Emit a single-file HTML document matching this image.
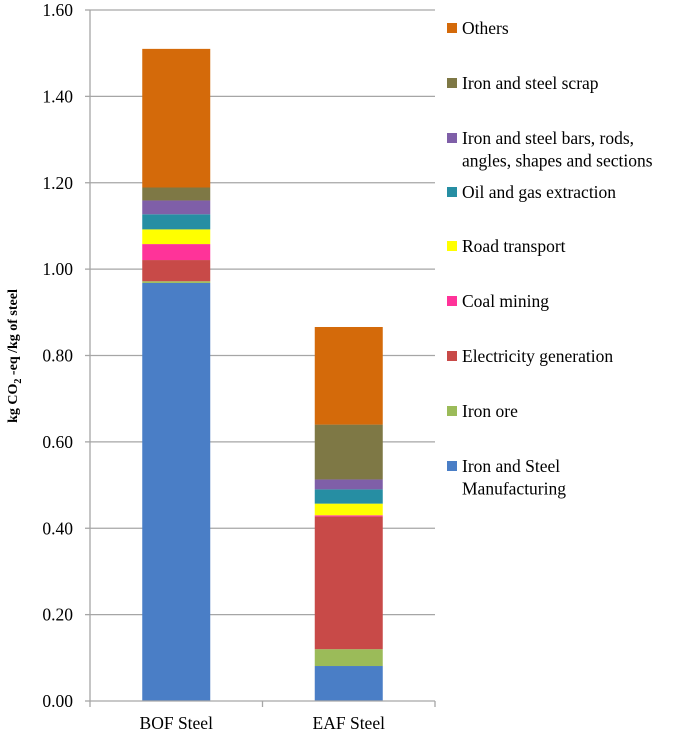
<!DOCTYPE html>
<html><head><meta charset="utf-8"><style>
html,body{margin:0;padding:0;background:#fff;}
svg, svg text{font-family:"Liberation Serif","Times New Roman",serif;}
</style></head><body>
<svg id="chart" width="685" height="734" viewBox="0 0 685 734" font-family="Liberation Serif, serif">
<g id="grid"></g>
<g id="bars"></g>
<g id="axes"></g>
<g id="legend"></g>
<text font-family="Liberation Serif, serif" transform="translate(17,356) rotate(-90)" text-anchor="middle" font-size="14" font-weight="bold">kg CO<tspan font-size="10" dy="4">2</tspan><tspan dy="-4"> -eq /kg  of steel</tspan></text>
</svg>
<script>
const categories = ["BOF Steel", "EAF Steel"];
const seriesNames = ["Iron and Steel Manufacturing", "Iron ore", "Electricity generation", "Coal mining", "Road transport", "Oil and gas extraction", "Iron and steel bars, rods, angles, shapes and sections", "Iron and steel scrap", "Others"];
const manufacturing = [0.968, 0.081];
const ironOre = [0.004, 0.039];
const electricity = [0.049, 0.307];
const coalMining = [0.037, 0.003];
const roadTransport = [0.034, 0.027];
const oilGas = [0.035, 0.033];
const steelBars = [0.032, 0.023];
const steelScrap = [0.030, 0.127];
const others = [0.321, 0.226];
const yTicks = [0, 0.2, 0.4, 0.6, 0.8, 1.0, 1.2, 1.4, 1.6];
const yTickLabels = ["0.00", "0.20", "0.40", "0.60", "0.80", "1.00", "1.20", "1.40", "1.60"];

const series = [manufacturing, ironOre, electricity, coalMining, roadTransport, oilGas, steelBars, steelScrap, others];
const colors = ["#4a7ec6", "#9bbb59", "#c84a48", "#ff3399", "#ffff00", "#268ea3", "#7f5fa8", "#7e7845", "#d46a0a"];
const NS = "http://www.w3.org/2000/svg";
const FONT = "Liberation Serif, serif";
const X0 = 90, X1 = 435, Y0 = 701, Y1 = 10, YMAX = 1.6;
const y = v => Y0 - (v / YMAX) * (Y0 - Y1);
const bandW = (X1 - X0) / categories.length;
const xc = i => X0 + bandW * (i + 0.5);
const barW = 68;
function mk(tag, attrs, parent) { const e = document.createElementNS(NS, tag); for (const k in attrs) e.setAttribute(k, attrs[k]); parent.appendChild(e); return e; }
const grid = document.getElementById("grid"), bars = document.getElementById("bars"), axes = document.getElementById("axes"), legend = document.getElementById("legend");

yTicks.forEach((t, i) => {
  if (t > 0) {
    const g = mk("line", {x1: X0, x2: X1, y1: y(t), y2: y(t), stroke: "#a6a6a6", "stroke-width": 1.3}, grid);
    
    
  }
  const tk = mk("line", {x1: X0 - 5, x2: X0, y1: y(t), y2: y(t), stroke: "#a6a6a6", "stroke-width": 1.3}, axes);
  
  
  const lb = mk("text", {x: 73, y: y(t) + 6, "text-anchor": "end", "font-size": 17.5, "font-family": FONT}, axes);
  lb.textContent = yTickLabels[i];
  
  
});

categories.forEach((c, ci) => {
  let cum = 0;
  series.forEach((s, si) => {
    const v = s[ci];
    const r = mk("rect", {x: xc(ci) - barW / 2, y: y(cum + v), width: barW, height: y(cum) - y(cum + v), fill: colors[si]}, bars);
    
    
    cum += v;
  });
  const lb = mk("text", {x: xc(ci), y: 729, "text-anchor": "middle", "font-size": 17.5, "font-family": FONT}, axes);
  lb.textContent = c;
  
  
});

const ax = mk("line", {x1: X0, x2: X0, y1: Y1, y2: Y0, stroke: "#a6a6a6", "stroke-width": 1.3}, axes);


const bx = mk("line", {x1: X0, x2: X1, y1: Y0, y2: Y0, stroke: "#a6a6a6", "stroke-width": 1.3}, axes);


for (let i = 0; i <= categories.length; i++) {
  const t = mk("line", {x1: X0 + bandW * i, x2: X0 + bandW * i, y1: Y0, y2: Y0 + 6, stroke: "#a6a6a6", "stroke-width": 1.3}, axes);
  
  
}

const legendLines = [["Iron and Steel", "Manufacturing"], ["Iron ore"], ["Electricity generation"], ["Coal mining"], ["Road transport"], ["Oil and gas extraction"], ["Iron and steel bars, rods,", "angles, shapes and sections"], ["Iron and steel scrap"], ["Others"]];
const legendY = [466, 411, 356, 301, 246, 192, 138, 83, 28];
legendLines.forEach((lines, i) => {
  const g = mk("g", {}, legend);
  
  
  mk("rect", {x: 447, y: legendY[i] - 5, width: 10, height: 10, fill: colors[i]}, g);
  lines.forEach((l, j) => {
    const t = mk("text", {x: 462, y: legendY[i] + 6 + j * 22.5, "font-size": 17.5, "font-family": FONT}, g);
    t.textContent = l;
  });
});
</script>
</body></html>
